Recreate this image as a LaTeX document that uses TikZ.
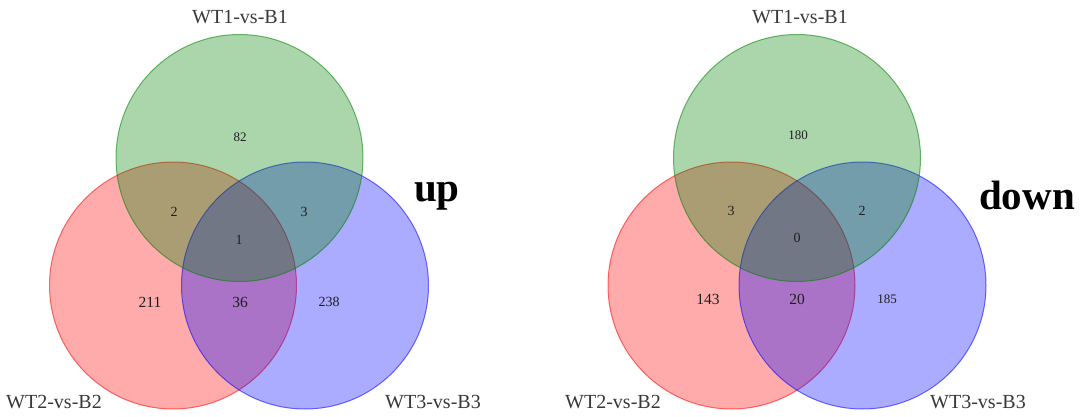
\documentclass[tikz,border=0pt]{standalone}
\usepackage{fontspec}
\setmainfont{Liberation Serif}
\definecolor{vgreen}{RGB}{0,128,0}
\definecolor{vred}{RGB}{255,0,0}
\definecolor{vblue}{RGB}{0,0,255}
\begin{document}
\begin{tikzpicture}[x=1pt,y=-1pt,
  venn/.style={circle, minimum size=247pt, inner sep=0pt, line width=1pt,
               fill opacity=0.33, draw opacity=0.55},
  setR/.style={venn, fill=vred, draw=vred},
  setB/.style={venn, fill=vblue, draw=vblue},
  setG/.style={venn, fill=vgreen, draw=vgreen},
  lab/.style={anchor=base, inner sep=0pt, text=black!78, font=\fontsize{20}{24}\selectfont},
  num/.style={inner sep=0pt, text=black!88, font=\fontsize{14}{16}\selectfont},
  numS/.style={num, font=\fontsize{13}{15}\selectfont},
  numL/.style={num, font=\fontsize{15.5}{18}\selectfont},
  big/.style={anchor=base, inner sep=0pt, text=black, font=\fontsize{41}{48}\selectfont\bfseries}
]
\useasboundingbox (0,0) rectangle (1080,417);

% ---- left panel: up ----
\node[setR] (uR) at (173,285.5) {};
\node[setB] (uB) at (305,285.5) {};
\node[setG] (uG) at (239.5,158) {};
\node[lab] (uLG) at (240,24) {WT1-vs-B1};
\node[lab] (uLR) at (54,408) {WT2-vs-B2};
\node[lab] (uLB) at (433,408) {WT3-vs-B3};
\node[numS] (u82) at (240,137) {82};
\node[num] (u2) at (174,212) {2};
\node[num] (u3) at (304,212) {3};
\node[num] (u1) at (239,240) {1};
\node[numL] (u211) at (150,302) {211};
\node[numL] (u36) at (240,302) {36};
\node[num] (u238) at (329,302) {238};
\node[big] (up) at (437,202) {up};

% ---- right panel: down ----
\node[setR] (dR) at (731.5,285.5) {};
\node[setB] (dB) at (862.5,285.5) {};
\node[setG] (dG) at (797,158) {};
\node[lab] (dLG) at (800,24) {WT1-vs-B1};
\node[lab] (dLR) at (613,408) {WT2-vs-B2};
\node[lab] (dLB) at (978,408) {WT3-vs-B3};
\node[numS] (d180) at (798,135) {180};
\node[num] (d3) at (731,211) {3};
\node[num] (d2) at (862,211) {2};
\node[num] (d0) at (797,238) {0};
\node[numL] (d143) at (708,299) {143};
\node[numL] (d20) at (797,299) {20};
\node[numS] (d185) at (887,299) {185};
\node[big] (down) at (1027,210) {down};
\end{tikzpicture}
\end{document}
